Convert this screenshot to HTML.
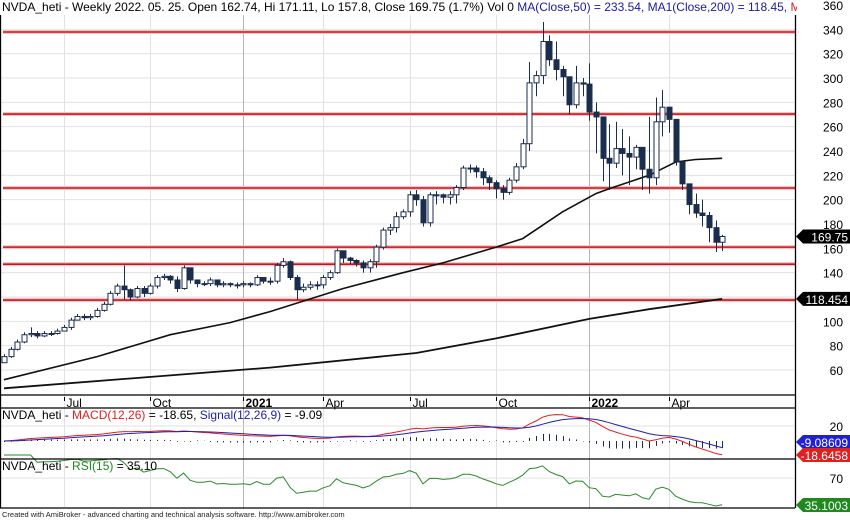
<!DOCTYPE html>
<html><head><meta charset="utf-8"><style>
body{margin:0;background:#fff;}
svg{display:block;font-family:"Liberation Sans",Arial,sans-serif;}
</style></head><body>
<svg id="chart" width="850" height="520" viewBox="0 0 850 520" xmlns="http://www.w3.org/2000/svg">
<rect x="0" y="0" width="850" height="520" fill="#fff"/>
<g id="grid"></g>
<g id="levels"></g>
<g id="ma"></g>
<g id="candles"></g>
<g id="ind"></g>
<g id="axes"></g>
</svg>
<script>
const closes=[71,77,83,89,90,88,90,90,92,95,101,104,103,104,109,114,123,129,126,120,127,123,129,136,137,134,127,144,134,131,131,134,130,131,130,130,131,130,136,133,
133,146,149,136,126,128,130,130,136,140,158,152,150,148,144,149,161,175,177,186,190,204,200,181,204,204,202,204,210,226,226,223,218,214,209,206,216,227,246,
296,302,330,315,307,301,278,296,295,272,268,234,230,242,238,235,243,225,218,264,276,266,231,213,196,189,187,177,165,169.75];
const highs=[73,79,85,91,95,92,92,92,94,97,103,106,106,106,111,116,125,131,146,127,129,129,131,138,139,138,137,146,144,134,133,136,133,133,132,132,133,132,138,136,
136,148,152,150,138,131,133,133,138,142,160,158,153,151,150,151,163,177,180,190,192,207,208,203,206,207,205,207,212,228,229,228,226,220,216,212,218,230,250,
313,306,346,335,330,310,300,310,300,312,280,250,262,264,258,252,245,232,268,284,290,270,233,224,210,205,200,190,183,171.11];
const lows=[68,70,76,82,87,86,87,88,89,92,93,101,101,101,103,108,113,121,118,117,119,120,122,127,134,131,124,126,131,128,129,129,128,128,128,127,128,128,129,131,
130,131,144,134,118,124,126,126,127,134,139,148,147,145,140,140,144,159,171,173,184,186,195,178,178,196,197,196,197,208,222,218,212,208,201,200,204,214,225,
240,285,295,310,298,285,270,275,285,265,238,215,208,226,220,212,225,208,205,212,252,255,228,208,188,185,178,165,157,157.8];
const firstOpen=66;
const ma50Idx=[0,14,25,34,40,51,60,66,74,78,84,89,91,97,101,104,108];
const ma50Val=[52,71,89,99,108,127,140,148,161,168,190,205,209,220,231,233,234];
const ma200Idx=[0,40,62,74,88,97,108];
const ma200Val=[45,62,74,86,102,110,118.45];
const levels=[337.8,270.4,209.6,161,147,117.5];
const priceTicks=[60,80,100,120,140,160,180,200,220,240,260,280,300,320,340,360];
const dateLabels=["Jul","Oct","2021","Apr","Jul","Oct","2022","Apr"];
const dateIdx=[9,22,36,48,61,74,88,100];

const NS="http://www.w3.org/2000/svg";
function el(tag,attrs,parent,text){const e=document.createElementNS(NS,tag);for(const k in attrs)e.setAttribute(k,attrs[k]);if(text!==undefined)e.textContent=text;parent.appendChild(e);return e;}
const xI=i=>4+i*6.65;
const yP=v=>5+(360-v)*1.2167;
const yM=v=>441-v*0.75;
const yR=v=>493.5-(v-50)*0.77;
const RIGHT=795;
const grid=document.getElementById('grid'),lv=document.getElementById('levels'),maG=document.getElementById('ma'),cG=document.getElementById('candles'),ind=document.getElementById('ind'),ax=document.getElementById('axes');

// horizontal grid
priceTicks.forEach(v=>{const y=yP(v);
 const l=el('line',{x1:0,x2:RIGHT,y1:y,y2:y,stroke:'#e2e2e2','stroke-width':1},grid);
 
 
 const t=el('text',{x:843,y:y+5,'text-anchor':'end','font-size':12,fill:'#000'},ax,String(v));
 
 
});
// vertical grid & date labels
dateLabels.forEach((lab,k)=>{const x=Math.round(xI(dateIdx[k]))+0.5;const yr=/^\d+$/.test(lab);
 const l=el('line',{x1:x,x2:x,y1:0,y2:508,stroke:yr?'#b5b5b5':'#e2e2e2','stroke-width':1},grid);
 
 
 el('line',{x1:x,x2:x,y1:397,y2:401,stroke:'#000'},ax);
 const t=el('text',{x:x+2,y:407,'font-size':12,'font-weight':yr?'bold':'normal',fill:'#000'},ax,lab);
 
 
});
// MACD/RSI gridlines
[[yM(20),'macd-gridline-20'],[yR(70),'rsi-gridline-70']].forEach(([y,n])=>{
 const l=el('line',{x1:0,x2:RIGHT,y1:y,y2:y,stroke:'#e2e2e2'},grid);
 
 
});
// levels
levels.forEach(v=>{const y=yP(v);
 el('line',{x1:3,x2:RIGHT,y1:y,y2:y,stroke:'#f4c4c4','stroke-width':4},lv);
 const l=el('line',{x1:3,x2:RIGHT,y1:y,y2:y,stroke:'#c8141c','stroke-width':1.6},lv);
 
 
});
// MAs
function maPath(idx,val){return idx.map((i,k)=>(k?'L':'M')+xI(i).toFixed(1)+' '+yP(val[k]).toFixed(1)).join(' ');}
const m50=el('path',{d:maPath(ma50Idx,ma50Val),fill:'none',stroke:'#111','stroke-width':1.6},maG);


const m200=el('path',{d:maPath(ma200Idx,ma200Val),fill:'none',stroke:'#111','stroke-width':1.8},maG);


// candles
closes.forEach((c,i)=>{const o=i?closes[i-1]:firstOpen;const h=Math.max(highs[i],o,c),l=Math.min(lows[i],o,c);
 const x=Math.round(xI(i))+0.5;const up=c>=o;
 const g=el('g',{},cG);
 
 
 el('line',{x1:x,x2:x,y1:yP(h),y2:yP(l),stroke:'#1b2d4d','stroke-width':1},g);
 const top=yP(Math.max(o,c)),bot=yP(Math.min(o,c));
 el('rect',{x:x-2.5,y:top,width:5,height:Math.max(1,bot-top),fill:up?'#fff':'#1b2d4d',stroke:'#1b2d4d','stroke-width':1},g);
});
// indicators
function ema(arr,n){const k=2/(n+1);const out=[];arr.forEach((v,i)=>out.push(i?v*k+out[i-1]*(1-k):v));return out;}
const e12=ema(closes,12),e26=ema(closes,26);
const macd=e12.map((v,i)=>v-e26[i]);const sig=ema(macd,9);
// histogram
macd.forEach((v,i)=>{const x=Math.round(xI(i))+0.5;const d=v-sig[i];
 const l=el('line',{x1:x,x2:x,y1:441,y2:441-d*0.75-(Math.abs(d)<1?(d>=0?-1:1):0),stroke:'#1b2d4d','stroke-width':1},ind);
 
 
});
function linePath(arr,fy){return arr.map((v,i)=>(i?'L':'M')+xI(i).toFixed(1)+' '+fy(v).toFixed(1)).join(' ');}
const mp=el('path',{d:linePath(macd,yM),fill:'none',stroke:'#e02020','stroke-width':1},ind);


const sp=el('path',{d:linePath(sig,yM),fill:'none',stroke:'#2020b0','stroke-width':1},ind);


// RSI 15
const rsi=[];let ag=0,al=0;
closes.forEach((c,i)=>{if(!i){rsi.push(62);return;}const d=c-closes[i-1];const g=Math.max(d,0),lo=Math.max(-d,0);
 if(i<=15){ag=(ag*(i-1)+g)/i;al=(al*(i-1)+lo)/i;}else{ag=(ag*14+g)/15;al=(al*14+lo)/15;}
 rsi.push(al===0?100:100-100/(1+ag/al));});
rsi[0]=rsi[1];
const rp=el('path',{d:linePath(rsi,yR),fill:'none',stroke:'#2a8a2a','stroke-width':1},ind);



// frame lines
[[0,395,RIGHT,395],[0,408,RIGHT,408],[0,459,RIGHT,459],[0,508,RIGHT,508],[RIGHT+0.5,0,RIGHT+0.5,508],[0.5,0,0.5,508]].forEach(a=>{
 const l=el('line',{x1:a[0],y1:a[1],x2:a[2],y2:a[3],stroke:'#000','stroke-width':1.3},ax);
 
 
});
// right labels
function tagBox(y,txt,bg,name){const g=el('g',{},ax);
 
 
 el('path',{d:`M${RIGHT+1} ${y} L${RIGHT+8} ${y-7} L850 ${y-7} L850 ${y+7} L${RIGHT+8} ${y+7} Z`,fill:bg},g);
 el('text',{x:848,y:y+5,'text-anchor':'end','font-size':12,fill:'#fff'},g,txt);}
tagBox(yP(169.75),'169.75','#000','last-price-tag');
tagBox(yP(118.454),'118.454','#000','ma200-price-tag');
el('text',{x:843,y:yM(20)+5,'text-anchor':'end','font-size':12},ax,'20');
el('text',{x:843,y:yR(70)+5,'text-anchor':'end','font-size':12},ax,'70');
tagBox(442,'-9.08609','#2020d0','signal-value-tag');
tagBox(455,'-18.6458','#e02020','macd-value-tag');
tagBox(505,'35.1003','#1e8a1e','rsi-value-tag');
</script>
<div style="position:absolute;left:0;top:0;width:795px;height:15px;background:#fff;font:12px 'Liberation Sans',Arial,sans-serif;white-space:nowrap;overflow:hidden;padding-left:2px;line-height:14px">NVDA_heti - Weekly 2022. 05. 25. Open 162.74, Hi 171.11, Lo 157.8, Close 169.75 (1.7%) Vol 0 <span style="color:#1a1aa0">MA(Close,50) = 233.54, MA1(Close,200) = 118.45,</span> <span style="color:#e02020">MACD(12,26)</span></div>
<div style="position:absolute;left:2px;top:408px;font:12px 'Liberation Sans',Arial,sans-serif;white-space:nowrap">NVDA_heti - <span style="color:#e02020">MACD(12,26)</span> = -18.65, <span style="color:#2020b0">Signal(12,26,9)</span> = -9.09</div>
<div style="position:absolute;left:2px;top:459px;font:12px 'Liberation Sans',Arial,sans-serif;white-space:nowrap">NVDA_heti - <span style="color:#1e8a1e">RSI(15)</span> = 35.10</div>
<div style="position:absolute;left:2px;top:510px;font:7.5px 'Liberation Sans',Arial,sans-serif;white-space:nowrap;color:#222">Created with AmiBroker - advanced charting and technical analysis software. http://www.amibroker.com</div>
</body></html>
